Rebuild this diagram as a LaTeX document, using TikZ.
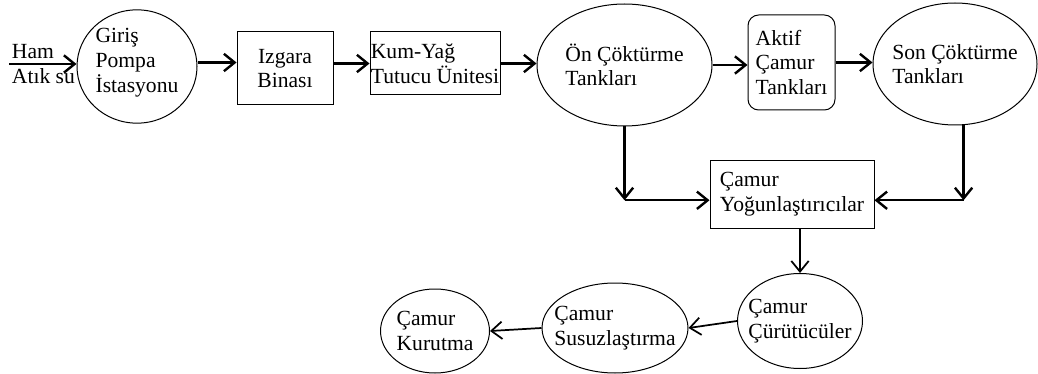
\documentclass[tikz,border=0pt]{standalone}
\usepackage{fontspec}
\setmainfont{Liberation Serif}
\usetikzlibrary{arrows.meta, positioning, shapes.geometric}

\begin{document}
\begin{tikzpicture}[x=0.75pt, y=-0.75pt,
  every node/.style={font=\fontsize{16.2pt}{18.5pt}\selectfont, align=left, inner sep=0pt},
  box/.style={rectangle, draw, line width=0.75pt},
  ell/.style={ellipse, draw, line width=0.75pt, inner xsep=-12pt, inner ysep=-6pt},
  arr/.style={-{Straight Barb[length=8pt, width=13pt]}, line width=1.8pt},
  thinarr/.style={arr, line width=1.3pt}
]
  \useasboundingbox (0,0) rectangle (1038,374);

  % top row
  \node[anchor=west, inner sep=2pt] (ham) at (9,64) {Ham\\Atık su};
  \node[ell, minimum width=90pt, minimum height=85pt, text depth=9pt] (giris) at (137,66.5) {Giriş\\Pompa\\İstasyonu};
  \node[box, align=center, minimum width=72pt, minimum height=54.75pt] (izgara) at (285,68.5) {Izgara\\Binası};
  \node[box, inner xsep=0.5pt, minimum width=97.5pt, minimum height=47.25pt] (kumyag) at (435,63.5) {Kum-Yağ\\Tutucu Ünitesi};
  \node[ell, minimum width=131.25pt, minimum height=91.5pt] (on) at (624.5,65) {Ön Çöktürme\\Tankları};
  \node[box, rounded corners=8pt, minimum width=65.25pt, minimum height=71.25pt] (aktif) at (791.5,62.5) {Aktif\\Çamur\\Tankları};
  \node[ell, minimum width=123pt, minimum height=91.5pt] (son) at (955,64) {Son Çöktürme\\Tankları};

  % sludge line
  \node[box, minimum width=123pt, minimum height=50.25pt] (yogun) at (792,194.5) {Çamur\\Yoğunlaştırıcılar};
  \node[ell, minimum width=93.75pt, minimum height=71.25pt] (curut) at (800,321) {Çamur\\Çürütücüler};
  \node[ell, minimum width=109.5pt, minimum height=67.5pt] (susuz) at (615,328) {Çamur\\Susuzlaştırma};
  \node[ell, minimum width=81.75pt, minimum height=63pt] (kurut) at (435,331) {Çamur\\Kurutma};

  \coordinate (onK) at (on.south |- yogun.-176);
  \coordinate (sonK) at (son.-82 |- yogun.-4);

  \draw[arr] (ham.west) -- (ham.west -| giris.west);
  \draw[arr] ([yshift=3pt]giris.east) -- ([yshift=3pt]giris.east -| izgara.west);
  \draw[arr] (kumyag.west -| izgara.east) -- (kumyag.west);
  \draw[arr] (kumyag.east) -- (kumyag.east -| on.west);
  \draw[arr] (on.east) -- (on.east -| aktif.west);
  \draw[arr] (aktif.east) -- (aktif.east -| son.west);
  \draw[arr] (on.south) -- (onK);
  \draw[arr] (onK) -- (yogun.-176);
  \draw[arr] (son.-82) -- (sonK);
  \draw[arr] (sonK) -- (yogun.-4);
  \draw[thinarr] (yogun.south -| curut.north) -- (curut.north);
  \draw[thinarr] (curut.west) -- (susuz.east);
  \draw[thinarr] (susuz.west) -- (kurut.east);
\end{tikzpicture}
\end{document}
